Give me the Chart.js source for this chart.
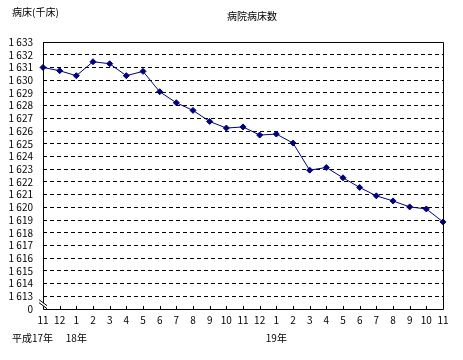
<!DOCTYPE html>
<html>
<head>
<meta charset="utf-8">
<script src="https://cdn.jsdelivr.net/npm/chart.js@4"></script>
<style>
  body { margin: 0; background: #fff; }
  #wrap { width: 463px; height: 360px; }
</style>
</head>
<body>
<div id="wrap"><canvas id="bedChart" width="463" height="360"></canvas></div>
<script>
const categories = ['11','12','1','2','3','4','5','6','7','8','9','10','11','12','1','2','3','4','5','6','7','8','9','10','11'];
const yearLabels = ['平成17年','','18年','','','','','','','','','','','','19年','','','','','','','','','',''];
const bedValues = [
  1631.00, 1630.74, 1630.35, 1631.45, 1631.29, 1630.35, 1630.69, 1629.09,
  1628.22, 1627.62, 1626.75, 1626.23, 1626.32, 1625.68, 1625.76, 1625.05,
  1622.92, 1623.13, 1622.32, 1621.56, 1620.90, 1620.50, 1620.03, 1619.87, 1618.85
];
const yMin = 1612;   // shown as "0" below the axis break
const yMax = 1633;
const chartTitle = '病院病床数';
const unitLabel = '病床(千床)';

const FONT = '"Noto Sans CJK JP", "DejaVu Sans", sans-serif';

function fmtTick(v) {
  if (v === yMin) return '0';
  const s = String(v);
  return s.slice(0, 1) + ' ' + s.slice(1);
}

// frame, axis break, inner ticks and the text around the plot
const decorations = {
  id: 'decorations',
  afterDraw(chart) {
    const { ctx, chartArea: a, scales } = chart;
    const xs = scales.x;
    ctx.save();
    ctx.strokeStyle = '#000';
    ctx.lineWidth = 1;

    // frame
    ctx.beginPath();
    ctx.moveTo(a.left + 0.5, a.bottom + 0.5);
    ctx.lineTo(a.left + 0.5, a.top + 0.5);
    ctx.lineTo(a.right + 0.5, a.top + 0.5);
    ctx.lineTo(a.right + 0.5, a.bottom + 0.5);
    ctx.lineTo(a.left + 0.5, a.bottom + 0.5);
    ctx.stroke();

    // small upward ticks on the category axis
    ctx.beginPath();
    categories.forEach((c, i) => {
      const px = Math.round(xs.getPixelForValue(i)) + 0.5;
      ctx.moveTo(px, a.bottom);
      ctx.lineTo(px, a.bottom - 3);
    });
    ctx.stroke();

    // axis break mark
    const yb = (scales.y.getPixelForValue(yMin + 1) + a.bottom) / 2 + 2;
    ctx.fillStyle = '#fff';
    ctx.beginPath();
    ctx.moveTo(a.left - 4, yb - 5);
    ctx.lineTo(a.left + 4, yb + 1);
    ctx.lineTo(a.left + 4, yb + 4);
    ctx.lineTo(a.left - 4, yb - 2);
    ctx.closePath();
    ctx.fill();
    ctx.beginPath();
    ctx.moveTo(a.left - 4, yb - 5);
    ctx.lineTo(a.left + 4, yb + 1);
    ctx.moveTo(a.left - 4, yb - 2);
    ctx.lineTo(a.left + 4, yb + 4);
    ctx.stroke();

    // year labels under the month labels
    ctx.fillStyle = '#000';
    ctx.font = '10px ' + FONT;
    ctx.textBaseline = 'middle';
    yearLabels.forEach((t, i) => {
      if (!t) return;
      const px = xs.getPixelForValue(i);
      ctx.textAlign = i === 0 ? 'right' : 'center';
      ctx.fillText(t, i === 0 ? px + 10 : px, a.bottom + 29);
    });

    // title and unit
    ctx.textAlign = 'center';
    ctx.fillText(chartTitle, 252, 16);
    ctx.textAlign = 'left';
    ctx.fillText(unitLabel, 12, 12);
    ctx.restore();
  }
};

new Chart(document.getElementById('bedChart'), {
  type: 'line',
  data: {
    labels: categories,
    datasets: [{
      data: bedValues,
      borderColor: '#000080',
      backgroundColor: '#000080',
      borderWidth: 1,
      tension: 0,
      pointStyle: 'rectRot',
      pointRadius: 3,
      pointHoverRadius: 3,
      pointBorderWidth: 1
    }]
  },
  options: {
    responsive: false,
    animation: false,
    layout: { padding: { top: 42, right: 20, left: 0, bottom: 0 } },
    plugins: {
      legend: { display: false },
      tooltip: { enabled: false }
    },
    scales: {
      x: {
        type: 'category',
        offset: false,
        grid: { display: false, drawTicks: false },
        border: { display: false },
        ticks: {
          color: '#000',
          font: { family: FONT, size: 10 },
          autoSkip: false,
          maxRotation: 0,
          padding: 5
        },
        afterFit(scale) { scale.height = 51; }
      },
      y: {
        min: yMin,
        max: yMax,
        grid: {
          color: ctx => (ctx.tick && ctx.tick.value === yMin) ? 'rgba(0,0,0,0)' : '#000',
          lineWidth: 1,
          drawTicks: false
        },
        border: { display: false, dash: [4, 3] },
        ticks: {
          stepSize: 1,
          autoSkip: false,
          color: '#000',
          font: { family: FONT, size: 10 },
          padding: 10,
          callback: v => fmtTick(v)
        },
        afterFit(scale) { scale.width = 43; }
      }
    }
  },
  plugins: [decorations]
});
</script>
</body>
</html>
